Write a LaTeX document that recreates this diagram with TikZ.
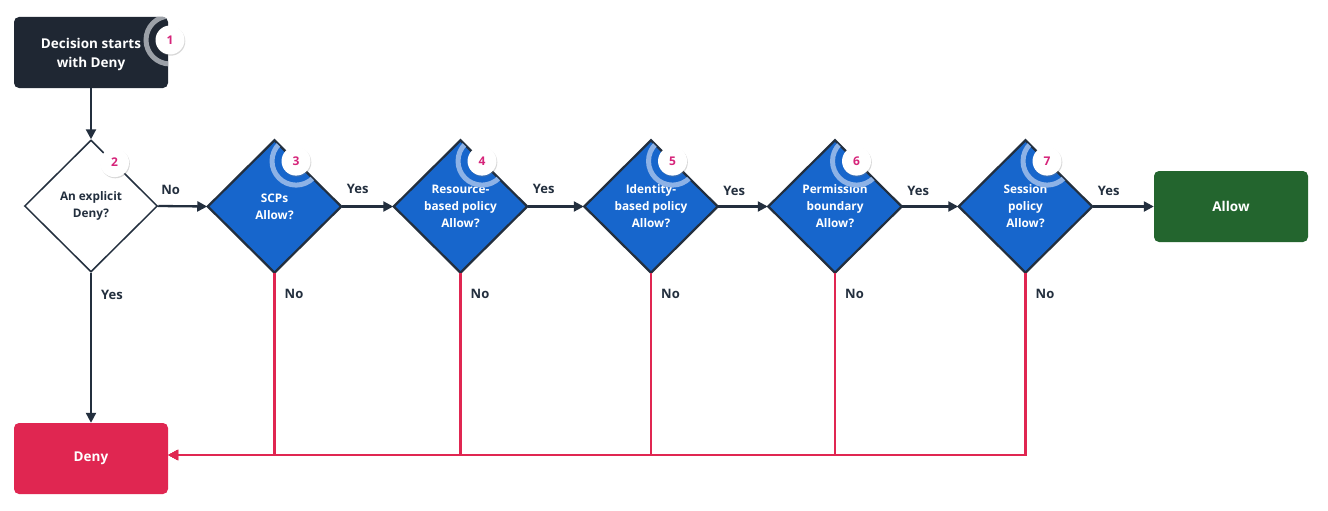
\documentclass[tikz,border=0pt]{standalone}
\usepackage{fontspec}
\setmainfont{Open Sans}
\usetikzlibrary{shapes.geometric,arrows.meta,shadows,calc}
\definecolor{darkbox}{HTML}{1F2733}
\definecolor{lineclr}{HTML}{232F3E}
\definecolor{blufill}{HTML}{1766CC}
\definecolor{ringblue}{HTML}{8DB2E6}
\definecolor{ringgray}{HTML}{9CA1A8}
\definecolor{allowgreen}{HTML}{23652E}
\definecolor{denyred}{HTML}{E02651}
\definecolor{pinknum}{HTML}{D6247A}
\tikzset{
  x=1pt,y=-1pt,
  rbox/.style={rectangle,rounded corners=5pt,minimum width=154pt,minimum height=71pt,inner sep=0pt,align=center,text=white,font=\fontsize{13.5}{19}\selectfont\bfseries},
  wdia/.style={diamond,draw=lineclr,line width=1.5pt,fill=white,minimum width=133pt,minimum height=132pt,inner sep=0pt,align=center,text=lineclr,font=\fontsize{11.8}{17}\selectfont\bfseries},
  bdia/.style={wdia,fill=blufill,text=white},
  badge/.style={circle,fill=white,minimum size=29pt,inner sep=0pt,text=pinknum,font=\fontsize{12}{14}\selectfont\bfseries,drop shadow={opacity=0.3,shadow xshift=0.8pt,shadow yshift=-1.2pt}},
  darr/.style={draw=lineclr,line width=2.3pt,-{Triangle[length=10pt,width=10pt]}},
  rarr/.style={draw=denyred,line width=2.3pt,-{Triangle[length=10pt,width=10pt]}},
  lbl/.style={text=lineclr,font=\fontsize{13}{16}\selectfont\bfseries,inner sep=0pt}
}
\begin{document}
\begin{tikzpicture}
\useasboundingbox (0,0) rectangle (1328,511);
\fill[white] (0,0) rectangle (1328,511);
% nodes
\node[rbox,fill=darkbox] (start) at (91,52.5) {};
\node[text=white,font=\fontsize{13.5}{19}\selectfont\bfseries,align=center,inner sep=0pt] (starttxt) at (91,54) {Decision starts\\with Deny};
\node[wdia] (d2) at (91,206) {An explicit\\Deny?};
\node[bdia] (d3) at (274.5,206.5) {SCPs\\Allow?};
\node[bdia] (d4) at (460.5,206.5) {Resource-\\based policy\\Allow?};
\node[bdia] (d5) at (651,206.5) {Identity-\\based policy\\Allow?};
\node[bdia] (d6) at (835,206.5) {Permission\\boundary\\Allow?};
\node[bdia] (d7) at (1025.5,206.5) {Session\\policy\\Allow?};
\node[rbox,fill=allowgreen] (allow) at (1231,206.5) {Allow};
\node[rbox,fill=denyred] (deny) at (91,458.5) {Deny};
% rings clipped to shapes
\coordinate (b1) at (170,40);
\begin{scope}
\clip[rounded corners=5pt] (start.north west) rectangle (start.south east);
\draw[ringgray,line width=5pt] (b1) circle[radius=24pt];
\end{scope}
\foreach \d in {d3,d4,d5,d6,d7}{
  \coordinate (b\d) at ($(\d.north)!0.32!(\d.east)$);
  \begin{scope}
  \clip (\d.north) -- (\d.east) -- (\d.south) -- (\d.west) -- cycle;
  \draw[ringblue,line width=5pt] (b\d) circle[radius=24pt];
  \end{scope}
  \draw[lineclr,line width=1.5pt] (\d.north) -- (\d.east) -- (\d.south) -- (\d.west) -- cycle;
}
\coordinate (bd2) at ($(d2.north)!0.35!(d2.east)$);
% badges
\node[badge] (n1) at (b1) {1};
\node[badge] (n2) at (bd2) {2};
\node[badge] (n3) at (bd3) {3};
\node[badge] (n4) at (bd4) {4};
\node[badge] (n5) at (bd5) {5};
\node[badge] (n6) at (bd6) {6};
\node[badge] (n7) at (bd7) {7};
% dark connectors
\draw[darr] (start.south) -- (d2.north);
\draw[darr] (d2.south) -- (deny.north) node[lbl,pos=0,anchor=north west,xshift=9pt,yshift=-16pt] {Yes};
\draw[darr] (d2.east) -- (d3.west) node[lbl,pos=0,anchor=south west,xshift=2pt,yshift=10pt] {No};
\draw[darr] (d3.east) -- (d4.west) node[lbl,pos=0,anchor=south west,xshift=4pt,yshift=12pt] {Yes};
\draw[darr] (d4.east) -- (d5.west) node[lbl,pos=0,anchor=south west,xshift=4pt,yshift=12pt] {Yes};
\draw[darr] (d5.east) -- (d6.west) node[lbl,pos=0,anchor=south west,xshift=4pt,yshift=10pt] {Yes};
\draw[darr] (d6.east) -- (d7.west) node[lbl,pos=0,anchor=south west,xshift=4pt,yshift=10pt] {Yes};
\draw[darr] (d7.east) -- (allow.west) node[lbl,pos=0,anchor=south west,xshift=4pt,yshift=10pt] {Yes};
% red connectors
\coordinate (denyin) at ([yshift=3.5pt]deny.east);
\foreach \d in {d3,d4,d5,d6,d7}{
  \draw[rarr] (\d.south) |- (denyin);
  \node[lbl,anchor=north west] at ([xshift=10pt,yshift=-16pt]\d.south) {No};
}
\end{tikzpicture}
\end{document}
